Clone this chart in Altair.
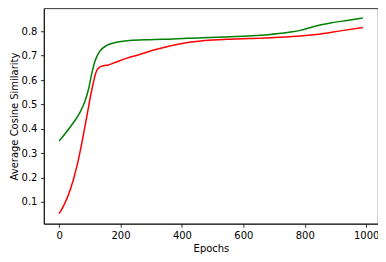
import altair as alt
import pandas as pd

green_x = [0, 15, 37, 55, 69, 85, 96, 106, 117, 133, 155, 187, 230, 292, 370, 454, 540, 615, 680, 723, 760, 788, 830, 884, 938, 989]
green_y = [0.349, 0.372, 0.408, 0.44, 0.469, 0.516, 0.563, 0.624, 0.678, 0.719, 0.742, 0.755, 0.762, 0.766, 0.769, 0.773, 0.777, 0.781, 0.786, 0.792, 0.798, 0.805, 0.82, 0.834, 0.845, 0.855]

red_x = [0, 15, 37, 58, 74, 90, 106, 120, 133, 145, 160, 182, 219, 262, 305, 357, 400, 454, 500, 561, 669, 776, 852, 916, 989]
red_y = [0.051, 0.084, 0.151, 0.246, 0.341, 0.449, 0.557, 0.631, 0.654, 0.659, 0.662, 0.672, 0.689, 0.705, 0.722, 0.739, 0.75, 0.759, 0.764, 0.768, 0.773, 0.78, 0.789, 0.802, 0.816]

x_ticks = [0, 200, 400, 600, 800, 1000]
y_ticks = [0.1, 0.2, 0.3, 0.4, 0.5, 0.6, 0.7, 0.8]

df = pd.concat([
    pd.DataFrame({"epoch": green_x, "sim": green_y, "series": "green", "order": range(len(green_x))}),
    pd.DataFrame({"epoch": red_x, "sim": red_y, "series": "red", "order": range(len(red_x))}),
])

x_enc = alt.X("epoch:Q",
              scale=alt.Scale(domain=[-49.45, 1038.45], nice=False, zero=False),
              axis=alt.Axis(values=x_ticks, title="Epochs", grid=False, format="d"))
y_enc = alt.Y("sim:Q",
              scale=alt.Scale(domain=[0.0095, 0.8946], nice=False, zero=False),
              axis=alt.Axis(values=y_ticks, title="Average Cosine Similarity", grid=False, format=".1f"))

chart = alt.Chart(df).mark_line(strokeWidth=1.5, interpolate="monotone").encode(
    x=x_enc,
    y=y_enc,
    color=alt.Color("series:N", scale=alt.Scale(domain=["green", "red"], range=["#008000", "#ff0000"]), legend=None),
    order="order:Q",
).properties(
    width=335,
    height=216,
    autosize=alt.AutoSizeParams(type="none"),
    padding={"left": 36, "top": 0, "right": 0, "bottom": 30},
).configure_view(
    stroke="#000000", strokeWidth=0.8
).configure_axis(
    domainColor="#000000", domainWidth=0.8,
    tickColor="#000000", tickSize=3.5, tickWidth=0.8,
    labelFont="DejaVu Sans", labelFontSize=10, labelColor="#000000", labelPadding=3.5,
    titleFont="DejaVu Sans", titleFontSize=10, titleFontWeight="normal", titleColor="#000000",
).configure_axisX(titlePadding=3).configure_axisY(titlePadding=2)

chart.save("out.html", embed_options={"renderer": "svg", "actions": False})
